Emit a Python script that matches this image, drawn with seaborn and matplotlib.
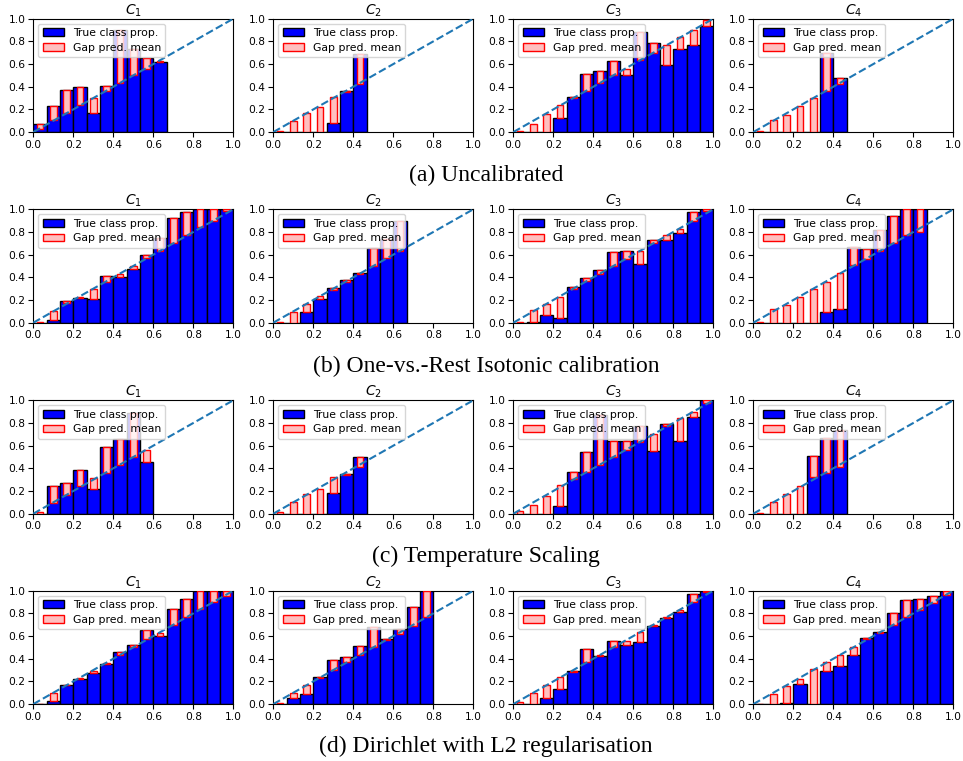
import numpy as np
import pandas as pd
import matplotlib
matplotlib.use("Agg")
import matplotlib.pyplot as plt
from matplotlib.patches import Patch
import seaborn as sns

# ---------------- data ----------------
n_bins = 15
class_names = ["$C_1$", "$C_2$", "$C_3$", "$C_4$"]
captions = ["(a) Uncalibrated",
            "(b) One-vs.-Rest Isotonic calibration",
            "(c) Temperature Scaling",
            "(d) Dirichlet with L2 regularisation"]
tick_values = [0.0, 0.2, 0.4, 0.6, 0.8, 1.0]
tick_labels = ["0.0", "0.2", "0.4", "0.6", "0.8", "1.0"]
legend_labels = ["True class prop.", "Gap pred. mean"]

# (a) Uncalibrated: true class proportion and predicted mean per bin
uncal_true = [
    [0.07, 0.23, 0.37, 0.40, 0.17, 0.41, 0.90, 0.73, 0.65, 0.615],
    [0.0, 0.0, 0.0, 0.0, 0.08, 0.365, 0.69],
    [0.0, 0.0, 0.0, 0.12, 0.31, 0.515, 0.54, 0.63, 0.505, 0.88, 0.79, 0.595, 0.73, 0.77, 0.935],
    [0.0, 0.0, 0.0, 0.0, 0.0, 0.70, 0.48],
]
uncal_pred = [
    [0.03, 0.11, 0.165, 0.235, 0.305, 0.36, 0.43, 0.50, 0.555, 0.625],
    [0.01, 0.10, 0.17, 0.22, 0.31, 0.35, 0.42],
    [0.01, 0.07, 0.16, 0.24, 0.305, 0.36, 0.43, 0.50, 0.56, 0.635, 0.70, 0.77, 0.84, 0.90, 0.985],
    [0.01, 0.105, 0.15, 0.23, 0.30, 0.365, 0.42],
]

# (b) One-vs.-Rest isotonic
iso_true = [
    [0.0, 0.025, 0.195, 0.215, 0.21, 0.415, 0.40, 0.47, 0.60, 0.75, 0.925, 0.98, 1.0, 1.0, 1.0],
    [0.0, 0.0, 0.09, 0.205, 0.31, 0.375, 0.44, 0.66, 0.74, 0.90],
    [0.0, 0.01, 0.065, 0.045, 0.315, 0.39, 0.465, 0.625, 0.635, 0.515, 0.725, 0.73, 0.795, 0.975, 1.0],
    [0.0, 0.0, 0.0, 0.0, 0.0, 0.09, 0.12, 0.67, 0.65, 0.82, 0.94, 1.0, 1.0],
]
iso_pred = [
    [0.01, 0.10, 0.17, 0.225, 0.30, 0.36, 0.43, 0.50, 0.57, 0.63, 0.70, 0.77, 0.84, 0.90, 0.985],
    [0.01, 0.095, 0.165, 0.235, 0.29, 0.36, 0.43, 0.50, 0.57, 0.63],
    [0.01, 0.11, 0.165, 0.23, 0.30, 0.37, 0.43, 0.50, 0.565, 0.635, 0.70, 0.77, 0.83, 0.90, 0.985],
    [0.01, 0.12, 0.16, 0.225, 0.30, 0.36, 0.44, 0.51, 0.565, 0.63, 0.70, 0.77, 0.80],
]

# (c) Temperature scaling
temp_true = [
    [0.0, 0.24, 0.27, 0.385, 0.22, 0.585, 0.66, 0.89, 0.46],
    [0.0, 0.0, 0.0, 0.0, 0.18, 0.35, 0.50],
    [0.0, 0.0, 0.0, 0.065, 0.365, 0.54, 0.87, 0.645, 0.645, 0.77, 0.555, 0.79, 0.64, 0.855, 1.0],
    [0.0, 0.0, 0.0, 0.0, 0.51, 0.67, 0.74],
]
temp_pred = [
    [0.015, 0.09, 0.165, 0.24, 0.315, 0.36, 0.43, 0.50, 0.565],
    [0.015, 0.10, 0.17, 0.22, 0.32, 0.34, 0.41],
    [0.025, 0.08, 0.155, 0.25, 0.31, 0.37, 0.43, 0.50, 0.56, 0.63, 0.70, 0.77, 0.84, 0.90, 0.98],
    [0.01, 0.10, 0.17, 0.24, 0.32, 0.36, 0.41],
]

# (d) Dirichlet with L2 regularisation
dir_true = [
    [0.0, 0.03, 0.17, 0.225, 0.275, 0.35, 0.46, 0.52, 0.65, 0.60, 0.835, 0.925, 1.0, 1.0, 1.0],
    [0.0, 0.05, 0.09, 0.24, 0.385, 0.415, 0.51, 0.68, 0.575, 0.665, 0.86, 1.0],
    [0.0, 0.0, 0.05, 0.135, 0.29, 0.49, 0.42, 0.56, 0.52, 0.545, 0.69, 0.755, 0.81, 0.975, 1.0],
    [0.0, 0.0, 0.01, 0.18, 0.0, 0.295, 0.335, 0.435, 0.58, 0.635, 0.80, 0.92, 0.925, 0.95, 1.0],
]
dir_pred = [
    [0.005, 0.10, 0.165, 0.23, 0.295, 0.365, 0.435, 0.50, 0.57, 0.63, 0.70, 0.765, 0.835, 0.90, 0.955],
    [0.01, 0.10, 0.165, 0.23, 0.30, 0.37, 0.43, 0.50, 0.565, 0.62, 0.69, 0.765],
    [0.02, 0.10, 0.165, 0.24, 0.285, 0.37, 0.43, 0.505, 0.56, 0.635, 0.70, 0.765, 0.83, 0.90, 0.99],
    [0.005, 0.085, 0.16, 0.225, 0.31, 0.37, 0.43, 0.50, 0.57, 0.63, 0.70, 0.765, 0.83, 0.895, 0.965],
]

methods_true = [uncal_true, iso_true, temp_true, dir_true]
methods_pred = [uncal_pred, iso_pred, temp_pred, dir_pred]

# ---------------- style ----------------
sns.set_theme(style="ticks", rc={
    "axes.linewidth": 0.8,
    "axes.edgecolor": "black",
    "xtick.major.width": 0.8,
    "ytick.major.width": 0.8,
    "xtick.major.size": 3.5,
    "ytick.major.size": 3.5,
    "xtick.labelsize": 7.7,
    "ytick.labelsize": 7.7,
    "xtick.color": "black",
    "ytick.color": "black",
    "text.color": "black",
    "axes.labelcolor": "black",
    "axes.titlesize": 10,
})
plt.rcParams["font.family"] = ["DejaVu Sans"]

BLUE = "#0000ff"
PINK = "#ffbfbf"
DIAG = "#1f77b4"

W, H = 963, 761
fig = plt.figure(figsize=(W / 100, H / 100), dpi=100)

col_left = [33.3, 273.3, 513.3, 753.3]
row_top = [18.7, 209.3, 400.3, 590.7]
ax_w, ax_h = 200.0, 113.4
caption_y = [175, 366, 556, 746]

edges = np.linspace(0, 1, n_bins + 1)
centers = (edges[:-1] + edges[1:]) / 2

for r in range(4):
    for c in range(4):
        ax = fig.add_axes([col_left[c] / W, 1 - (row_top[r] + ax_h) / H, ax_w / W, ax_h / H])
        true = np.array(methods_true[r][c])
        pred = np.array(methods_pred[r][c])
        k = len(true)
        df = pd.DataFrame({"center": centers[:k], "true": true, "gap": pred - true})
        sns.barplot(data=df, x="center", y="true", native_scale=True, width=1.0,
                    color=BLUE, saturation=1, edgecolor="black", linewidth=1.0,
                    errorbar=None, ax=ax, zorder=2)
        sns.barplot(data=df, x="center", y="gap", native_scale=True, width=0.5,
                    color=PINK, saturation=1, edgecolor="red", linewidth=1.0,
                    errorbar=None, ax=ax, bottom=df["true"].values, zorder=3)
        sns.lineplot(x=[0.0, 1.0], y=[0.0, 1.0], ax=ax, color=DIAG, linestyle="--",
                     linewidth=1.5, zorder=4)
        ax.set_xlim(0, 1)
        ax.set_ylim(0, 1)
        ax.set_xticks(tick_values)
        ax.set_xticklabels(tick_labels)
        ax.set_yticks(tick_values)
        ax.set_yticklabels(tick_labels)
        ax.set_xlabel("")
        ax.set_ylabel("")
        ax.tick_params(pad=2)
        ax.set_title(class_names[c], fontsize=10, pad=3, color="black")
        handles = [Patch(facecolor=BLUE, edgecolor="black", linewidth=1.0),
                   Patch(facecolor=PINK, edgecolor="red", linewidth=1.0)]
        ax.legend(handles, legend_labels, loc="upper left", fontsize=7.8,
                  framealpha=0.8, edgecolor="#cccccc", fancybox=True,
                  borderaxespad=0.45, labelspacing=0.45)
    fig.text(486 / W, 1 - caption_y[r] / H, captions[r], ha="center", va="center",
             fontsize=17, color="black", family=["Liberation Serif", "DejaVu Serif"])

fig.savefig("out.png", dpi=100)
